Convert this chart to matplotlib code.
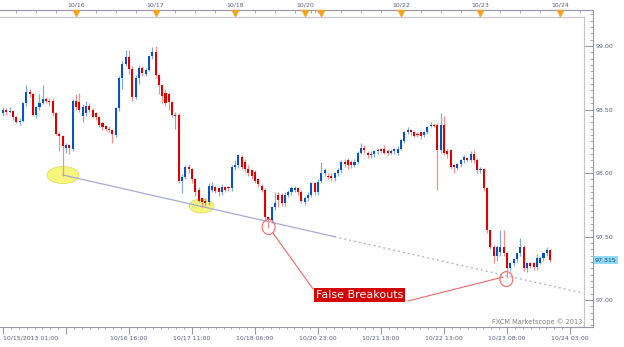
import numpy as np
import matplotlib.pyplot as plt
from matplotlib.patches import Ellipse
from matplotlib.ticker import MultipleLocator
import matplotlib.transforms as mtransforms

# hourly USD/JPY-style candles
opens = [98.47, 98.50, 98.48, 98.49, 98.44, 98.40, 98.41, 98.55, 98.64, 98.62,
         98.46, 98.52, 98.55, 98.58, 98.57, 98.57, 98.47, 98.31, 98.29, 98.20,
         98.22, 98.19, 98.57, 98.56, 98.45, 98.47, 98.53, 98.50, 98.47, 98.44,
         98.39, 98.37, 98.35, 98.34, 98.30, 98.51, 98.75, 98.86, 98.91, 98.82,
         98.60, 98.75, 98.83, 98.78, 98.81, 98.92, 98.95, 98.77, 98.69, 98.63,
         98.62, 98.56, 98.45, 98.46, 97.94, 97.97, 98.05, 98.03, 97.95, 97.87,
         97.80, 97.78, 97.77, 97.87, 97.89, 97.88, 97.85, 97.89, 97.89, 97.88,
         98.05, 98.06, 98.13, 98.09, 98.03, 98.02, 98.01, 97.95, 97.90, 97.87,
         97.65, 97.63, 97.73, 97.83, 97.83, 97.76, 97.83, 97.85, 97.87, 97.88,
         97.85, 97.77, 97.80, 97.83, 97.92, 97.85, 97.94, 98.00, 97.98, 97.98,
         97.96, 98.00, 98.02, 98.09, 98.10, 98.09, 98.06, 98.09, 98.16, 98.20,
         98.16, 98.14, 98.15, 98.17, 98.19, 98.19, 98.17, 98.16, 98.17, 98.16,
         98.19, 98.25, 98.32, 98.34, 98.32, 98.31, 98.32, 98.30, 98.32, 98.37,
         98.38, 98.38, 98.18, 98.38, 98.17, 98.18, 98.06, 98.04, 98.07, 98.10,
         98.12, 98.10, 98.15, 98.10, 98.02, 98.03, 97.88, 97.55, 97.42, 97.35,
         97.38, 97.42, 97.37, 97.25, 97.29, 97.32, 97.37, 97.42, 97.25, 97.29,
         97.29, 97.26, 97.29, 97.33, 97.37, 97.39]
highs = [98.52, 98.51, 98.52, 98.50, 98.45, 98.43, 98.56, 98.69, 98.66, 98.63,
         98.53, 98.62, 98.69, 98.60, 98.59, 98.59, 98.48, 98.32, 98.30, 98.24,
         98.23, 98.58, 98.62, 98.63, 98.54, 98.57, 98.55, 98.51, 98.48, 98.45,
         98.40, 98.38, 98.37, 98.35, 98.52, 98.76, 98.88, 98.97, 98.97, 98.84,
         98.77, 98.85, 98.84, 98.83, 98.93, 98.99, 99.00, 98.78, 98.70, 98.66,
         98.64, 98.57, 98.48, 98.47, 97.99, 98.06, 98.07, 98.04, 97.96, 97.89,
         97.81, 97.80, 97.92, 97.93, 97.90, 97.89, 97.91, 97.90, 97.90, 98.06,
         98.10, 98.15, 98.14, 98.11, 98.06, 98.03, 98.02, 97.96, 97.91, 97.88,
         97.66, 97.74, 97.85, 97.85, 97.84, 97.85, 97.87, 97.90, 97.90, 97.89,
         97.87, 97.82, 97.85, 97.93, 97.93, 97.95, 98.09, 98.04, 98.00, 98.00,
         98.01, 98.04, 98.10, 98.11, 98.12, 98.10, 98.11, 98.17, 98.24, 98.22,
         98.17, 98.17, 98.18, 98.20, 98.20, 98.22, 98.19, 98.19, 98.20, 98.21,
         98.27, 98.33, 98.36, 98.35, 98.33, 98.32, 98.33, 98.33, 98.37, 98.40,
         98.39, 98.39, 98.47, 98.45, 98.19, 98.19, 98.07, 98.08, 98.11, 98.14,
         98.13, 98.17, 98.18, 98.12, 98.05, 98.04, 97.89, 97.56, 97.43, 97.43,
         97.55, 97.55, 97.38, 97.30, 97.33, 97.38, 97.49, 97.43, 97.30, 97.30,
         97.30, 97.36, 97.35, 97.38, 97.42, 97.40]
lows = [98.45, 98.46, 98.47, 98.42, 98.39, 98.38, 98.40, 98.53, 98.60, 98.45,
        98.43, 98.50, 98.54, 98.55, 98.53, 98.45, 98.30, 98.17, 97.98, 98.16,
        98.15, 98.17, 98.50, 98.48, 98.40, 98.45, 98.48, 98.43, 98.42, 98.36,
        98.34, 98.33, 98.32, 98.24, 98.28, 98.49, 98.66, 98.84, 98.78, 98.57,
        98.58, 98.70, 98.76, 98.76, 98.80, 98.90, 98.75, 98.62, 98.55, 98.53,
        98.50, 98.44, 98.35, 97.92, 97.84, 97.95, 98.00, 97.92, 97.82, 97.77,
        97.73, 97.74, 97.75, 97.85, 97.84, 97.82, 97.83, 97.85, 97.86, 97.86,
        98.02, 98.04, 98.03, 98.01, 97.98, 97.95, 97.92, 97.89, 97.85, 97.63,
        97.57, 97.61, 97.71, 97.73, 97.74, 97.74, 97.81, 97.83, 97.85, 97.83,
        97.76, 97.75, 97.78, 97.81, 97.83, 97.83, 97.92, 97.98, 97.95, 97.94,
        97.94, 97.98, 98.00, 98.05, 98.03, 98.04, 98.05, 98.07, 98.15, 98.16,
        98.12, 98.12, 98.13, 98.15, 98.16, 98.15, 98.14, 98.15, 98.15, 98.14,
        98.18, 98.24, 98.31, 98.30, 98.28, 98.28, 98.27, 98.28, 98.31, 98.36,
        98.36, 97.87, 98.16, 98.14, 98.12, 98.03, 98.00, 98.02, 98.05, 98.08,
        98.09, 98.09, 98.08, 98.00, 98.00, 97.86, 97.53, 97.40, 97.29, 97.31,
        97.35, 97.35, 97.17, 97.23, 97.27, 97.30, 97.35, 97.23, 97.22, 97.25,
        97.24, 97.24, 97.28, 97.31, 97.35, 97.30]
closes = [98.50, 98.48, 98.49, 98.44, 98.40, 98.41, 98.55, 98.64, 98.62, 98.46,
          98.52, 98.55, 98.58, 98.57, 98.56, 98.47, 98.31, 98.29, 98.21, 98.22,
          98.20, 98.57, 98.52, 98.50, 98.52, 98.53, 98.50, 98.44, 98.44, 98.38,
          98.36, 98.35, 98.34, 98.31, 98.51, 98.75, 98.86, 98.91, 98.82, 98.60,
          98.75, 98.83, 98.79, 98.81, 98.92, 98.95, 98.77, 98.69, 98.61, 98.55,
          98.56, 98.46, 98.46, 97.94, 97.97, 98.05, 98.03, 97.95, 97.85, 97.78,
          97.77, 97.76, 97.90, 97.90, 97.86, 97.85, 97.89, 97.87, 97.88, 98.05,
          98.06, 98.14, 98.05, 98.03, 98.00, 97.98, 97.94, 97.91, 97.87, 97.65,
          97.63, 97.73, 97.76, 97.79, 97.76, 97.83, 97.85, 97.88, 97.88, 97.85,
          97.78, 97.80, 97.83, 97.92, 97.85, 97.93, 98.00, 98.02, 97.97, 97.96,
          98.00, 98.02, 98.09, 98.07, 98.06, 98.06, 98.09, 98.16, 98.20, 98.18,
          98.14, 98.15, 98.17, 98.18, 98.17, 98.16, 98.16, 98.17, 98.19, 98.19,
          98.26, 98.32, 98.34, 98.32, 98.29, 98.30, 98.29, 98.32, 98.36, 98.38,
          98.37, 98.18, 98.38, 98.16, 98.15, 98.05, 98.05, 98.07, 98.10, 98.13,
          98.10, 98.15, 98.10, 98.02, 98.03, 97.88, 97.55, 97.42, 97.35, 97.42,
          97.42, 97.37, 97.25, 97.29, 97.32, 97.37, 97.42, 97.25, 97.29, 97.27,
          97.26, 97.33, 97.33, 97.37, 97.39, 97.315]

time_labels = ["10/15/2013 01:00", "", "10/16 16:00", "10/17 11:00", "10/18 06:00",
               "10/20 23:00", "10/21 18:00", "10/22 13:00", "10/23 08:00", "10/24 03:00"]
day_labels = ["10/16", "10/17", "10/18", "10/20", "", "10/22", "10/23", "10/24"]
price_levels = [97.0, 97.5, 98.0, 98.5, 99.0]
last_price = 97.315

BLUE, RED = "#0a52c4", "#e00000"
BLUE_W, RED_W = "#85abe4", "#f29090"
TXT = "#5c5c88"
AXC = "#9a9aa6"

fig = plt.figure(figsize=(6.24, 3.47), dpi=100)
ax = fig.add_axes([0, 0.0585, 0.9498, 0.9118])
x0, x1 = -0.905, 177.83
y0, y1 = 96.790, 99.281
ax.set_xlim(x0, x1)
ax.set_ylim(y0, y1)

o = np.array(opens)
h = np.array(highs)
l = np.array(lows)
c = np.array(closes)
x = np.arange(len(c))
up = c >= o
ax.vlines(x, l, h, colors=np.where(up, BLUE_W, RED_W), lw=0.9, zorder=3)
ax.bar(x, np.maximum(np.abs(c - o), 0.007), bottom=np.minimum(o, c), width=0.62,
       color=np.where(up, BLUE, RED), zorder=4)

# trend line (solid, then dotted projection)
tl = lambda b: 97.984 - (b - 18.1) * 0.005925
ax.plot([18.1, 100], [tl(18.1), tl(100)], color="#a9a9d4", lw=0.9, zorder=2)
ax.plot([100, 175.1], [tl(100), tl(175.1)], color="#a9a9d4", lw=0.9, ls=(0, (1.5, 2.5)), zorder=2)

# touch points
for cx, cy, w, hh in [(18.1, 97.984, 9.6, 0.134), (59.9, 97.740, 7.5, 0.110)]:
    ax.add_patch(Ellipse((cx, cy), w, hh, facecolor="#f6f57c", edgecolor="#dede66", lw=0.6, zorder=1))
for cx, cy in [(80.1, 97.575), (151.8, 97.165)]:
    ax.add_patch(Ellipse((cx, cy), 3.9, 0.118, fill=False, edgecolor="#f06868", lw=0.8, zorder=5))

ax.plot([81.4, 93.5], [97.528, 97.087], color="#f06868", lw=0.8, zorder=5)
ax.plot([122.1, 150.8], [96.992, 97.181], color="#f06868", lw=0.8, zorder=5)
ax.text(107.5, 97.039, "False Breakouts", color="white", fontsize=8, ha="center", va="center",
        zorder=6, bbox=dict(boxstyle="square,pad=0.15", fc="#d40000", ec="none"))

ax.text(174.6, 96.827, "FXCM Marketscope \u00a9 2013", color="#808080", fontsize=4.8,
        ha="right", va="center")

# inner frame
ytop, xr = 99.231, 175.12
ax.axvline(xr, ymax=(ytop - y0) / (y1 - y0), color="#c4c4d0", lw=0.8)
ax.axhline(ytop, xmax=(xr - x0) / (x1 - x0), color="#c4c4d0", lw=0.8)

for s in ["top", "right", "bottom"]:
    ax.spines[s].set_color(AXC)
    ax.spines[s].set_linewidth(0.8)
ax.spines["left"].set_visible(False)

# right price axis
ax.yaxis.tick_right()
ax.set_yticks(price_levels, ["%.2f" % p for p in price_levels])
ax.yaxis.set_minor_locator(MultipleLocator(0.05))
ax.tick_params(axis="y", which="major", direction="in", length=6.5, width=0.8, color=AXC,
               pad=1.8, labelsize=4.5, labelcolor=TXT)
ax.tick_params(axis="y", which="minor", direction="in", length=2, width=0.6, color=AXC)

# bottom time axis
ax.set_xticks(np.arange(0, 172, 19), time_labels)
ax.set_xticks(np.arange(0, 172, 19 / 8), minor=True)
ax.tick_params(axis="x", which="major", direction="out", length=5, width=0.8, color=AXC,
               pad=1.5, labelsize=4.5, labelcolor=TXT)
ax.tick_params(axis="x", which="minor", direction="out", length=1.5, width=0.6, color=AXC)
ax.get_xticklabels()[0].set_ha("left")
ax.get_xticklabels()[0].set_x(-0.5)

# top date strip
day_pos = [22, 46, 70, 91, 96, 120, 144, 168]
sec = ax.secondary_xaxis("top")
sec.set_xticks(day_pos, day_labels)
sec.set_xticks(list(range(4, 91, 6)) + [93, 94, 95] + list(range(102, 175, 6)), minor=True)
sec.tick_params(which="major", length=0, pad=2.2, labelsize=4.5, labelcolor=TXT)
sec.tick_params(which="minor", direction="in", length=2, width=0.6, color=AXC)
sec.spines["top"].set_color(AXC)
sec.spines["top"].set_linewidth(0.8)
ax.plot(day_pos, [99.262] * len(day_pos), ls="none", marker="v", ms=3.8, color="#f5a31a",
        clip_on=False, zorder=7)

# last price tag
trans = mtransforms.blended_transform_factory(ax.transAxes, ax.transData)
ax.text(1.004, last_price, "%.3f" % last_price, transform=trans, fontsize=4.5, color="#24406e",
        ha="left", va="center", bbox=dict(boxstyle="square,pad=0.2", fc="#8fdcf8", ec="none"))

fig.savefig("out.png", dpi=100)
